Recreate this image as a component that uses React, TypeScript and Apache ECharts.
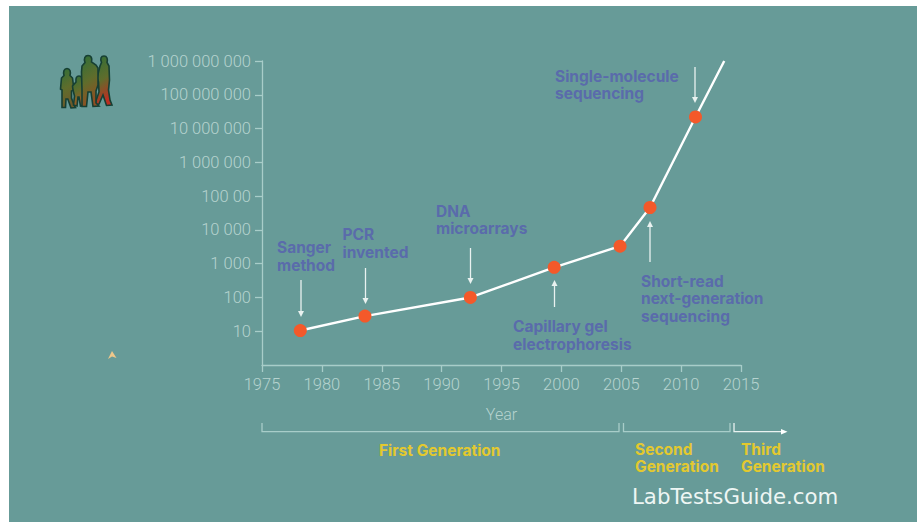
import React, { useEffect, useRef } from "react";
import * as echarts from "echarts";

const years = [1978.2, 1983.6, 1992.4, 1999.4, 2004.9, 2007.4, 2011.2, 2013.6];
const genomes = [10.5, 28, 100, 780, 3300, 46000, 22000000, 1000000000];
const yTickValues = [10, 100, 1000, 10000, 100000, 1000000, 10000000, 100000000, 1000000000];
const yTickLabels = ["10", "100", "1 000", "10 000", "100 00", "1 000 000", "10 000 000", "100 000 000", "1 000 000 000"];

const BLUE = "#5a6bab";
const YELLOW = "#e3c92f";
const AXIS = "#a8cdc9";
const LABEL = "#b6d3cf";
const ARROW = "#e9f2f0";
const BOLD = "Inter";

const personPaths = {
  a: "M67 68.5C70 68.5 71 71.5 70 75.5L72.5 78L74 90L71.5 91L71.5 98L74 105L75.5 107.5L71 108L67.8 99L66 99L65.5 107.5L62 107.5L62 97L62 90L60.5 89L61.5 78L64 75.5C63 71.5 64 68.5 67 68.5Z",
  b: "M79 76C81.5 76 82.5 78 82 81.5L85 84L85.5 94L83.5 96L83.5 105.5L80.5 106L79 97L78 97L77 106L73.5 105L74.5 96L73 90L72.5 86L76 82C75.5 78 76.5 76 79 76Z",
  c: "M88 55.5C91 55.5 92.5 58 91.5 62L96 65L98 68L98 85L96 91L96 103L99 106L93 106.5L91 92L88 92L86.5 106.5L82 106.5L82 90L81.5 72L82 66L85 62.5C83.5 58.5 85 55.5 88 55.5Z",
  d: "M104 56C107 56 108 59 107 62.5L109 66L109.5 80L108.5 90L110 100L112 105L106.5 105.5L103 95L99 104L94.5 105L99 92L98.5 82L97 78L100 66L101.5 62.5C100 58.5 101 56 104 56Z",
};

Object.entries(personPaths).forEach(([k, d]) => {
  echarts.graphic.registerShape("person_" + k, echarts.graphic.extendPath(d, {}));
});

const grad = (bottom: string) =>
  new echarts.graphic.LinearGradient(0, 0, 0.25, 1, [
    { offset: 0, color: "#2f6f38" },
    { offset: 0.55, color: "#5f6d2c" },
    { offset: 1, color: bottom },
  ]);

const txt = (text: string, x: number, y: number, fill: string) => ({
  type: "text",
  style: { text, x, y, fill, fontFamily: BOLD, fontSize: 15.5, fontWeight: 700, lineHeight: 17.5, textVerticalAlign: "middle" },
});

const arrow = (x: number, from: number, to: number) => {
  const dir = to > from ? 1 : -1;
  return [
    { type: "line", shape: { x1: x, y1: from, x2: x, y2: to - dir * 5 }, style: { stroke: ARROW, lineWidth: 1.3 } },
    { type: "polygon", shape: { points: [[x - 3, to - dir * 6], [x + 3, to - dir * 6], [x, to]] }, style: { fill: ARROW } },
  ];
};

const bracket = (x1: number, x2: number) => ({
  type: "polyline",
  shape: { points: [[x1, 423], [x1, 431.7], [x2, 431.7], [x2, 423]] },
  style: { stroke: AXIS, lineWidth: 1.3, fill: "none" },
});

export default function App() {
  const ref = useRef<HTMLDivElement>(null);
  useEffect(() => {
    const chart = echarts.init(ref.current!, undefined, { renderer: "svg" });
    chart.setOption({
      animation: false,
      backgroundColor: "#ffffff",
      grid: { left: 262, right: 176, top: 61, bottom: 157 },
      xAxis: {
        type: "value",
        min: 1975,
        max: 2015,
        interval: 5,
        splitLine: { show: false },
        axisLine: { lineStyle: { color: AXIS, width: 1.3 } },
        axisTick: { length: 7, lineStyle: { color: AXIS, width: 1.3 } },
        axisLabel: { color: LABEL, fontFamily: "Roboto", fontWeight: 300, fontSize: 16.5, margin: 11, formatter: (v: number) => String(v) },
        name: "Year",
        nameLocation: "middle",
        nameGap: 41,
        nameTextStyle: { color: LABEL, fontFamily: "Roboto", fontWeight: 300, fontSize: 16 },
      },
      yAxis: {
        type: "log",
        logBase: 10,
        min: 1,
        max: 1000000000,
        splitLine: { show: false },
        minorTick: { show: false },
        axisLine: { lineStyle: { color: AXIS, width: 1.3 } },
        axisTick: { length: 7, customValues: yTickValues, lineStyle: { color: AXIS, width: 1.3 } },
        axisLabel: {
          customValues: yTickValues,
          color: LABEL,
          fontFamily: "Roboto",
          fontWeight: 300,
          fontSize: 16.5,
          margin: 11,
          formatter: (v: number) => {
            const i = yTickValues.findIndex((t) => Math.abs(Math.log10(t) - Math.log10(v)) < 1e-6);
            return i >= 0 ? yTickLabels[i] : "";
          },
        },
      },
      series: [
        {
          type: "line",
          data: years.map((y, i) => ({
            value: [y, genomes[i]],
            symbol: i === years.length - 1 ? "none" : "circle",
          })),
          symbolSize: 13,
          showAllSymbol: true,
          lineStyle: { color: "#ffffff", width: 2.4 },
          itemStyle: { color: "#f4592a" },
          z: 5,
        },
      ],
      graphic: {
        elements: [
          { type: "rect", z: -10, shape: { x: 9, y: 6, width: 908, height: 516 }, style: { fill: "#679b98" } },
          { type: "person_a", style: { fill: grad("#6d5a2a"), stroke: "#163f33", lineWidth: 1.6 } },
          { type: "person_b", style: { fill: grad("#a05a25"), stroke: "#163f33", lineWidth: 1.6 } },
          { type: "person_d", style: { fill: grad("#bb2f22"), stroke: "#163f33", lineWidth: 1.6 } },
          { type: "person_c", style: { fill: grad("#8f4f22"), stroke: "#163f33", lineWidth: 1.6 } },
          { type: "polygon", shape: { points: [[108, 359], [112, 351], [116.5, 358], [112, 356.5]] }, style: { fill: "#efc78a" } },

          ...arrow(301, 280, 317),
          ...arrow(365.5, 268, 304),
          ...arrow(470.5, 248, 284),
          ...arrow(554.5, 307, 280),
          ...arrow(650, 262, 221),
          ...arrow(695, 67, 103),

          txt("Sanger\nmethod", 277, 256.5, BLUE),
          txt("PCR\ninvented", 342.5, 243.5, BLUE),
          txt("DNA\nmicroarrays", 436, 220, BLUE),
          txt("Capillary gel\nelectrophoresis", 513, 335.5, BLUE),
          txt("Short-read\nnext-generation\nsequencing", 641, 298.5, BLUE),
          txt("Single-molecule\nsequencing", 555, 85, BLUE),

          bracket(262, 619),
          bracket(623.5, 730),
          { type: "polyline", shape: { points: [[734, 423], [734, 431.7], [782, 431.7]] }, style: { stroke: ARROW, lineWidth: 1.3, fill: "none" } },
          { type: "polygon", shape: { points: [[781, 429], [781, 434.5], [787.5, 431.7]] }, style: { fill: "#ffffff" } },

          txt("First Generation", 379, 450, YELLOW),
          txt("Second\nGeneration", 635, 458, YELLOW),
          txt("Third\nGeneration", 741, 458, YELLOW),

          {
            type: "text",
            style: { text: "LabTestsGuide.com", x: 632, y: 496, fill: "#eef6f4", fontFamily: "DejaVu Sans", fontSize: 21.3, textVerticalAlign: "middle" },
          },
        ],
      },
    });
    return () => chart.dispose();
  }, []);
  return <div ref={ref} style={{ position: "absolute", left: 0, top: 0, width: 917, height: 522 }} />;
}
